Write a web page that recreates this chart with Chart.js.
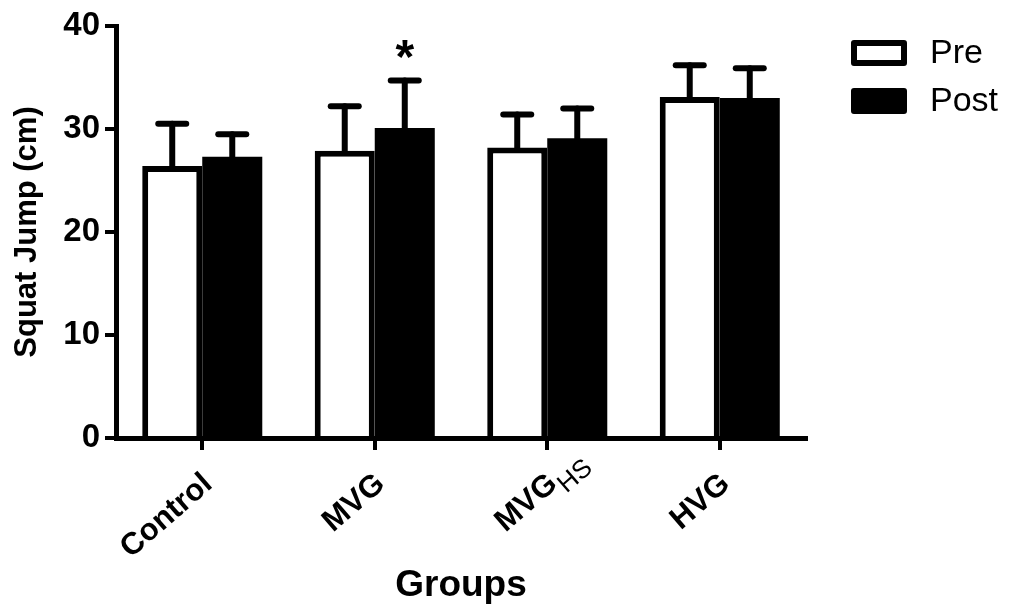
<!DOCTYPE html>
<html>
<head>
<meta charset="utf-8">
<title>Squat Jump</title>
<script src="https://cdn.jsdelivr.net/npm/chart.js@4/dist/chart.umd.min.js"></script>
<style>
  html, body { margin: 0; padding: 0; background: #fff; }
  #wrap { width: 1010px; height: 605px; }
</style>
</head>
<body>
<div id="wrap"><canvas id="chart-sj" width="1010" height="605"></canvas></div>
<script>
// ── Data ─────────────────────────────────────────────────────────
const groups    = ['Control', 'MVG', 'MVG', 'HVG'];
const groupSubs = ['', '', 'HS', ''];
const preMean   = [26.4, 27.9, 28.2, 33.1];
const preSD     = [4.1, 4.3, 3.2, 3.1];
const postMean  = [27.3, 30.1, 29.1, 33.0];
const postSD    = [2.2, 4.6, 2.9, 2.9];
const postSig   = ['', '*', '', ''];
const yMin = 0, yMax = 40, yStep = 10;

const FONT = '"Liberation Sans", Arial, sans-serif';
Chart.defaults.font.family = FONT;
Chart.defaults.color = '#000';

// ── Error bars (upper whisker only) + significance marks ─────────
const errorBars = {
    id: 'errorBars',
    afterDatasetsDraw(chart) {
        const { ctx, scales: { y } } = chart;
        ctx.save();
        ctx.strokeStyle = '#000';
        ctx.lineCap = 'round';
        chart.data.datasets.forEach((ds, di) => {
            const meta = chart.getDatasetMeta(di);
            meta.data.forEach((bar, i) => {
                const top = y.getPixelForValue(ds.data[i] + ds.sd[i]);
                ctx.lineWidth = 6;
                ctx.beginPath();
                ctx.moveTo(bar.x, bar.y);
                ctx.lineTo(bar.x, top);
                ctx.stroke();
                ctx.beginPath();
                ctx.moveTo(bar.x - 14, top);
                ctx.lineTo(bar.x + 14, top);
                ctx.stroke();
                if (ds.sig && ds.sig[i]) {
                    ctx.fillStyle = '#000';
                    ctx.font = 'bold 48px ' + FONT;
                    ctx.textAlign = 'center';
                    ctx.textBaseline = 'alphabetic';
                    ctx.fillText(ds.sig[i], bar.x, top - 8);
                }
            });
        });
        ctx.restore();
    }
};

// ── X tick labels, rotated, with subscript ───────────────────────
const groupLabels = {
    id: 'groupLabels',
    afterDraw(chart) {
        const { ctx, scales: { x } } = chart;
        const mainFont = 'bold 31px ' + FONT;
        const subFont  = '26px ' + FONT;
        ctx.save();
        ctx.fillStyle = '#000';
        groups.forEach((g, i) => {
            const px = x.getPixelForTick(i);
            ctx.save();
            ctx.translate(px + 6, 480);
            ctx.rotate(-41 * Math.PI / 180);
            ctx.textBaseline = 'middle';
            ctx.textAlign = 'right';
            ctx.font = mainFont;
            ctx.fillText(g, 0, 0);
            if (groupSubs[i]) {
                ctx.textAlign = 'left';
                ctx.font = subFont;
                ctx.fillText(groupSubs[i], 1, 12);
            }
            ctx.restore();
        });
        ctx.restore();
    }
};

// ── Legend ───────────────────────────────────────────────────────
const boxLegend = {
    id: 'boxLegend',
    afterDraw(chart) {
        const { ctx } = chart;
        ctx.save();
        chart.data.datasets.forEach((ds, i) => {
            const top = 40 + i * 48;
            ctx.fillStyle = ds.backgroundColor;
            ctx.strokeStyle = '#000';
            ctx.lineWidth = 6;
            ctx.lineJoin = 'round';
            ctx.fillRect(854, top + 3, 50, 20);
            ctx.strokeRect(854, top + 3, 50, 20);
            ctx.fillStyle = '#000';
            ctx.font = '34px ' + FONT;
            ctx.textAlign = 'left';
            ctx.textBaseline = 'middle';
            ctx.fillText(ds.label, 930, top + 14);
        });
        ctx.restore();
    }
};

new Chart(document.getElementById('chart-sj'), {
    type: 'bar',
    data: {
        labels: groups.map((g, i) => g + groupSubs[i]),
        datasets: [
            {
                label: 'Pre',
                data: preMean,
                sd: preSD,
                backgroundColor: '#fff',
                borderColor: '#000',
                borderWidth: 6,
                borderSkipped: 'start',
            },
            {
                label: 'Post',
                data: postMean,
                sd: postSD,
                sig: postSig,
                backgroundColor: '#000',
                borderColor: '#000',
                borderWidth: 0,
            }
        ]
    },
    options: {
        responsive: false,
        animation: false,
        layout: { padding: { left: 0, right: 204, top: 26, bottom: 0 } },
        datasets: { bar: { categoryPercentage: 0.696, barPercentage: 1.0 } },
        plugins: {
            legend: { display: false },
            tooltip: { enabled: false }
        },
        scales: {
            x: {
                grid: { offset: false, drawOnChartArea: false, drawTicks: true, tickLength: 12, lineWidth: 4, color: '#000' },
                border: { color: '#000', width: 5 },
                ticks: { display: false },
                title: { display: true, text: 'Groups', font: { size: 37, weight: 'bold' }, padding: { top: 0, bottom: -3 } },
                afterFit: (scale) => { scale.height = 167; }
            },
            y: {
                min: yMin, max: yMax,
                grid: { drawOnChartArea: false, drawTicks: true, tickLength: 11, lineWidth: 4, color: '#000' },
                border: { color: '#000', width: 5 },
                ticks: { stepSize: yStep, padding: 5, font: { size: 33, weight: 'bold' } },
                title: { display: true, text: 'Squat Jump (cm)', font: { size: 31, weight: 'bold' }, padding: { top: 9, bottom: 0 } },
                afterFit: (scale) => { scale.width = 116; }
            }
        }
    },
    plugins: [errorBars, groupLabels, boxLegend]
});
</script>
</body>
</html>
